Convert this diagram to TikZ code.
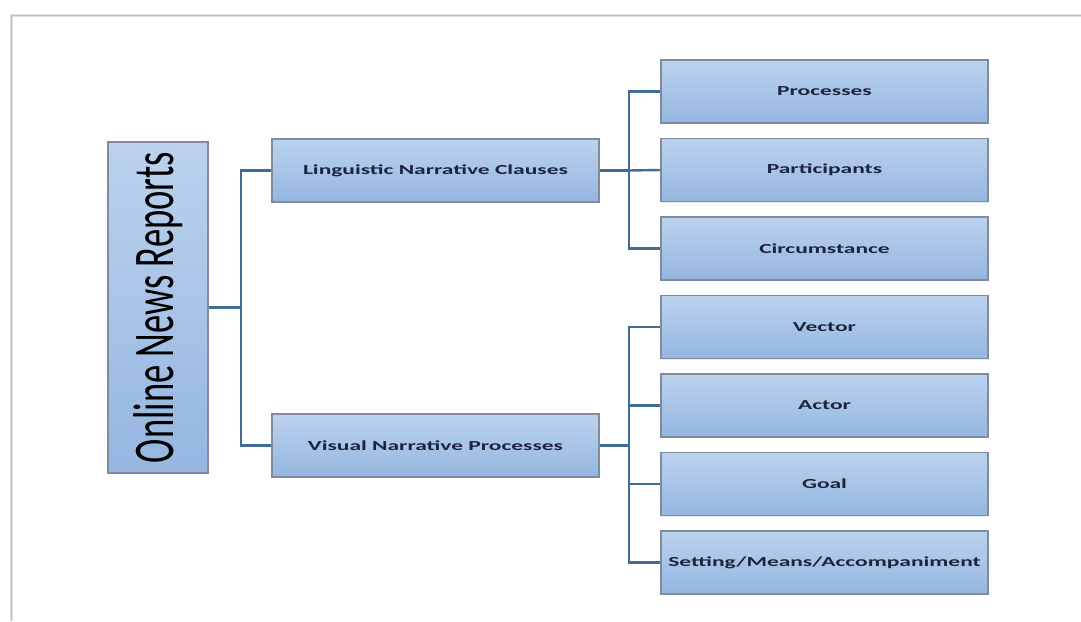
\documentclass[tikz,border=0pt]{standalone}
\usepackage{fontspec}
\usepackage{graphicx}
\usepackage{xcolor}
\usetikzlibrary{positioning,shadows}
\setmainfont{Carlito}
\newfontfamily\boxfont[FakeStretch=1.7]{Carlito}

\definecolor{boxtop}{RGB}{188,210,238}
\definecolor{boxbottom}{RGB}{148,182,224}
\definecolor{boxedge}{RGB}{128,140,158}
\definecolor{linkblue}{RGB}{66,110,150}
\definecolor{labelnavy}{RGB}{28,36,62}

\tikzset{
    news-box/.style = {draw=boxedge, line width=1.6pt, rectangle, top color=boxtop, bottom color=boxbottom,
        drop shadow={opacity=0.18, shadow xshift=1pt, shadow yshift=-1pt},
        minimum width=327pt, minimum height=63pt, inner sep=0pt,
        font=\boxfont\bfseries\fontsize{13.8}{16}\selectfont, text=labelnavy},
    root-box/.style = {news-box, minimum width=100pt, minimum height=331pt},
    link/.style = {draw=linkblue, line width=2.4pt},
}

\begin{document}
\begin{tikzpicture}[x=1pt, y=-1pt]
\useasboundingbox (0,0) rectangle (1081,621);
% page frame
\draw[black!12, line width=3pt] (11,621) -- (11,15) -- (1081,15);
\draw[black!25, line width=1pt] (11,621) -- (11,15) -- (1081,15);

% left part
\node [root-box] (root) at (158,307.5) {};
\node [rotate=90, text=black] at (root.center) {\scalebox{1}[1.57]{\fontsize{36.6}{40}\selectfont Online News Reports}};
\node [news-box] (ling) at (435.5,170.5) {Linguistic Narrative Clauses};
\node [news-box] (vis) at (435.5,445.5) {Visual Narrative Processes};

% right part
\node [news-box] (proc) at (824.5,91.5) {Processes};
\node [news-box, below=13.9pt of proc] (part) {Participants};
\node [news-box, below=13.9pt of part] (circ) {Circumstance};
\node [news-box, below=13.9pt of circ] (vec) {Vector};
\node [news-box, below=13.9pt of vec] (act) {Actor};
\node [news-box, below=13.9pt of act] (goal) {Goal};
\node [news-box, below=13.9pt of goal] (sett) {Setting/Means/Accompaniment};

% connectors
\coordinate (rbus) at (241,307.5);
\coordinate (lbus) at (629,170.5);
\coordinate (vbus) at (629,445.5);
\draw[link] (root.east) -- (rbus);
\draw[link] (ling.west) -| (rbus) |- (vis.west);
\draw[link] (ling.east) -- (lbus);
\draw[link] (proc.west) -| (lbus) |- (circ.west);
\draw[link] (part.west) -- (lbus);
\draw[link] (vis.east) -- (vbus);
\draw[link] (vec.west) -| (vbus) |- (sett.west);
\draw[link] (act.west) -- (act.west -| vbus);
\draw[link] (goal.west) -- (goal.west -| vbus);
\end{tikzpicture}
\end{document}
